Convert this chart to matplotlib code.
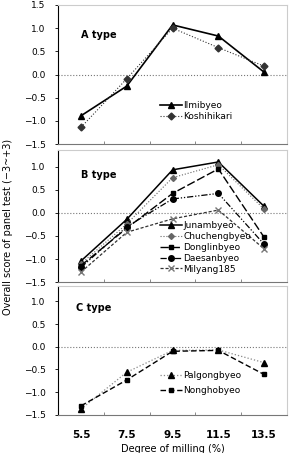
import matplotlib
matplotlib.use('Agg')
from matplotlib import pyplot as plt

milling = [5.5, 7.5, 9.5, 11.5, 13.5]
x_labels = ['5.5', '7.5', '9.5', '11.5', '13.5']

# A type
ilmibyeo = [-0.89, -0.25, 1.07, 0.83, 0.05]
koshihikari = [-1.14, -0.09, 1.00, 0.58, 0.18]

# B type
junambyeo = [-1.04, -0.14, 0.93, 1.10, 0.14]
chuchengbyeo = [-1.10, -0.24, 0.76, 1.04, 0.08]
donglinbyeo = [-1.14, -0.33, 0.42, 0.95, -0.53]
daesanbyeo = [-1.18, -0.30, 0.30, 0.42, -0.68]
milyang185 = [-1.28, -0.42, -0.13, 0.06, -0.78]

# C type
palgongbyeo = [-1.37, -0.56, -0.08, -0.07, -0.35]
nonghobyeo = [-1.30, -0.73, -0.10, -0.08, -0.61]

plt.rcParams['font.family'] = ['DejaVu Sans']
plt.rcParams['font.size'] = 6.5

fig = plt.figure(figsize=(2.92, 4.53), dpi=100)

ax_a = fig.add_axes([0.199, 0.682, 0.784, 0.307])
ax_b = fig.add_axes([0.199, 0.377, 0.784, 0.292])
ax_c = fig.add_axes([0.199, 0.084, 0.784, 0.285])


def style_axes(ax, top):
    ax.set_xlim(4.5, 14.5)
    ax.set_ylim(-1.5, top)
    ax.set_yticks([-1.5, -1.0, -0.5, 0.0, 0.5, 1.0, 1.5] if top >= 1.5 else [-1.5, -1.0, -0.5, 0.0, 0.5, 1.0])
    ax.set_yticklabels(['%.1f' % v if v >= 0 else '\u2212%.1f' % -v
                        for v in ax.get_yticks()], fontsize=6.5)
    ax.set_xticks([6.5, 8.5, 10.5, 12.5])
    ax.set_xticklabels([])
    ax.tick_params(axis='x', direction='in', length=2, width=0.6, color='#777777')
    ax.tick_params(axis='y', direction='out', length=2, width=0.6, pad=7)
    ax.spines['left'].set_color('black')
    ax.spines['left'].set_linewidth(0.8)
    ax.spines['bottom'].set_color('#777777')
    ax.spines['bottom'].set_linewidth(0.8)
    ax.spines['top'].set_color('#cccccc')
    ax.spines['right'].set_color('#cccccc')
    ax.axhline(0, color='#777777', linestyle=':', linewidth=0.8, zorder=0)


style_axes(ax_a, 1.5)
style_axes(ax_b, 1.36)
style_axes(ax_c, 1.34)

# A type
ax_a.plot(milling, ilmibyeo, color='black', linewidth=1.2, marker='^', markersize=4.5, label='Ilmibyeo')
ax_a.plot(milling, koshihikari, color='#333333', linewidth=0.8, linestyle=':', marker='D', markersize=3.5, label='Koshihikari')
ax_a.text(5.5, 0.86, 'A type', fontsize=7, fontweight='bold', va='center')
ax_a.legend(loc='upper left', bbox_to_anchor=(0.445, 0.31), frameon=False, fontsize=6.5,
            handlelength=2.4, handletextpad=0.2, borderpad=0, borderaxespad=0, labelspacing=0.25)

# B type
ax_b.plot(milling, junambyeo, color='black', linewidth=1.1, marker='^', markersize=4, label='Junambyeo')
ax_b.plot(milling, chuchengbyeo, color='#666666', linewidth=0.8, linestyle=':', marker='D', markersize=3, label='Chuchengbyeo')
ax_b.plot(milling, donglinbyeo, color='black', linewidth=1.0, linestyle=(0, (6, 2)), marker='s', markersize=3.5, label='Donglinbyeo')
ax_b.plot(milling, daesanbyeo, color='black', linewidth=0.9, linestyle=(0, (5, 1.5, 1, 1.5, 1, 1.5)), marker='o', markersize=4, label='Daesanbyeo')
ax_b.plot(milling, milyang185, color='#333333', linewidth=0.9, linestyle=(0, (2.5, 1.5)), marker='x', markersize=4,
          markeredgecolor='#777777', label='Milyang185')
ax_b.text(5.5, 0.82, 'B type', fontsize=7, fontweight='bold', va='center')
ax_b.legend(loc='upper left', bbox_to_anchor=(0.445, 0.46), frameon=False, fontsize=6.5,
            handlelength=2.4, handletextpad=0.2, borderpad=0, borderaxespad=0, labelspacing=0.2)

# C type
ax_c.plot(milling, palgongbyeo, color='#888888', linewidth=0.9, linestyle=':', marker='^', markersize=4,
          markerfacecolor='black', markeredgecolor='black', label='Palgongbyeo')
ax_c.plot(milling, nonghobyeo, color='black', linewidth=1.0, linestyle=(0, (4, 2)), marker='s', markersize=3.5, label='Nonghobyeo')
ax_c.text(5.3, 0.85, 'C type', fontsize=7, fontweight='bold', va='center')
ax_c.legend(loc='upper left', bbox_to_anchor=(0.445, 0.34), frameon=False, fontsize=6.5,
            handlelength=2.4, handletextpad=0.2, borderpad=0, borderaxespad=0, labelspacing=0.7)

ax_c.set_xticks(milling, minor=True)
ax_c.set_xticklabels(x_labels, minor=True, fontsize=7.5, fontweight='bold')
ax_c.tick_params(axis='x', which='minor', length=0, pad=11)
ax_c.set_xlabel('Degree of milling (%)', fontsize=7, labelpad=3)

fig.text(0.028, 0.5, 'Overall score of panel test (\u22123~+3)', rotation=90, fontsize=7,
         va='center', ha='center')

plt.savefig('out.png', dpi=100)
